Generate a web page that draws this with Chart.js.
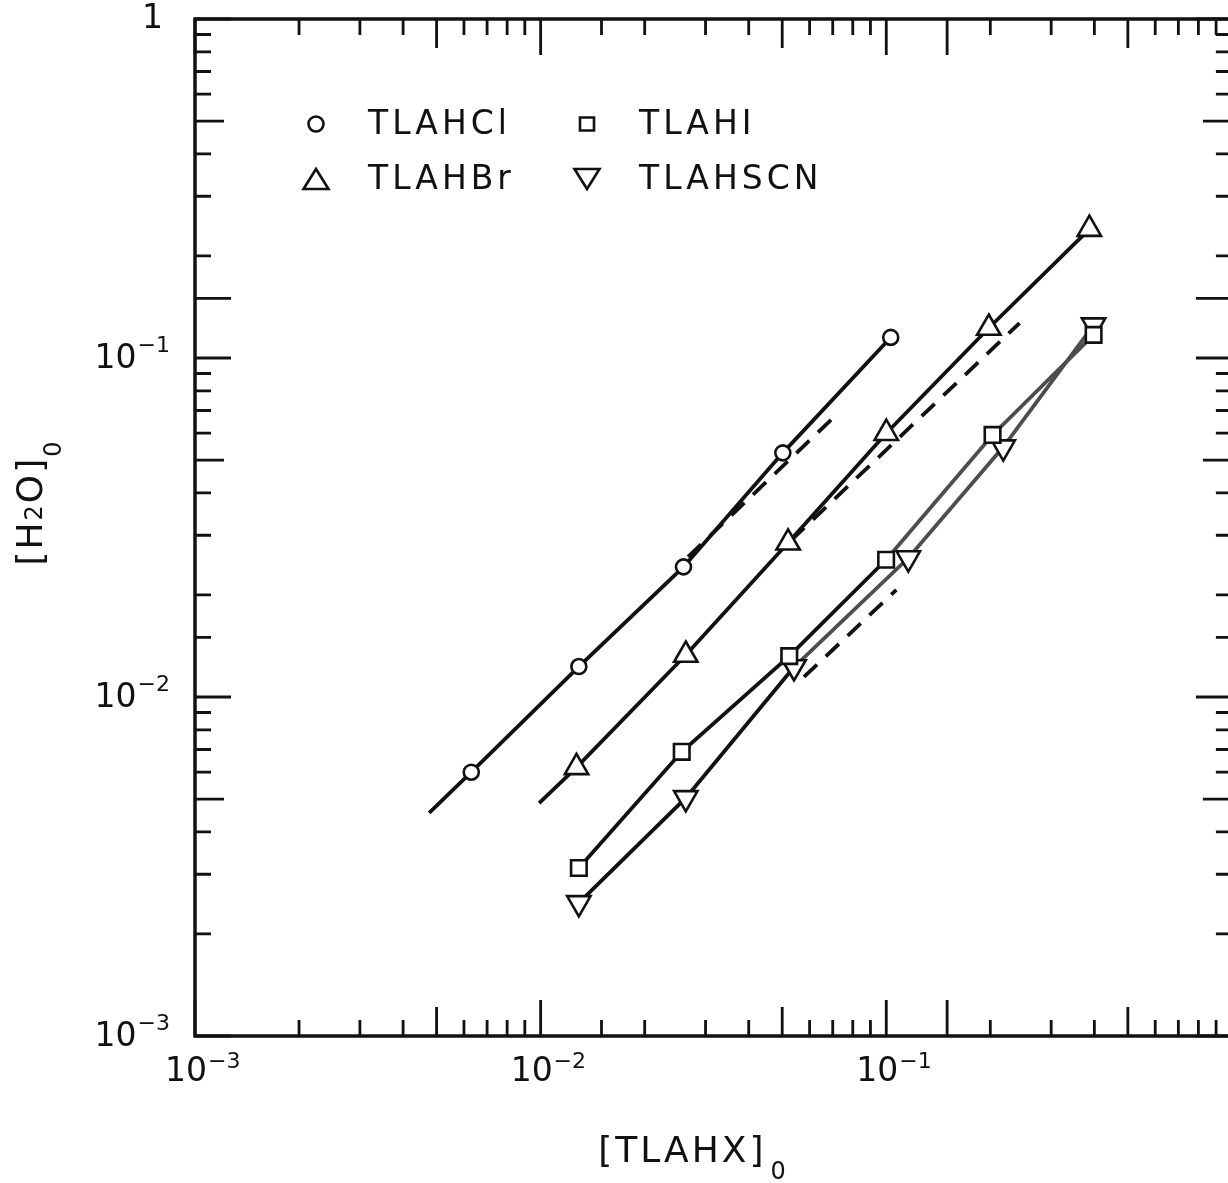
<!DOCTYPE html>
<html>
<head>
<meta charset="utf-8">
<script src="https://cdn.jsdelivr.net/npm/chart.js@4.4.1/dist/chart.umd.min.js"></script>
<style>
  html, body { margin: 0; padding: 0; background: #fff; overflow: hidden; }
  canvas { display: block; }
</style>
</head>
<body>
<canvas id="chart" width="1248" height="1183"></canvas>
<script>
// [H2O]0 against [TLAHX]0
const clX = [0.0063, 0.0129, 0.0259, 0.0502, 0.103];
const clY = [0.0060, 0.0123, 0.0242, 0.0525, 0.115];
const brX = [0.0127, 0.0263, 0.052, 0.100, 0.198, 0.387];
const brY = [0.0062, 0.0133, 0.0285, 0.060, 0.1226, 0.240];
const iX = [0.0129, 0.0256, 0.0524, 0.0999, 0.203, 0.398];
const iY = [0.00313, 0.00689, 0.0132, 0.0254, 0.0593, 0.117];
const scnX = [0.0129, 0.0263, 0.0541, 0.1158, 0.218, 0.398];
const scnY = [0.00247, 0.00504, 0.01226, 0.0257, 0.0546, 0.125];

// solid fit lines reach a little below the first Cl and Br points
const clLineFrom = [0.00476, 0.00455];
const brLineFrom = [0.0099, 0.00486];

// dashed (calculated) lines, start and end
const clDashX = [0.0267, 0.0701];
const clDashY = [0.0259, 0.0665];
const brDashX = [0.0531, 0.243];
const brDashY = [0.0290, 0.1268];
const scnDashX = [0.0578, 0.1069];
const scnDashY = [0.01146, 0.0207];

// where the I and SCN traces turn into the lighter hatched stroke
const iGreyFrom = 0.0999;
const scnGreyFrom = 0.0541;

const xTitle = ['[TLAHX]', '0'];
const yTitle = ['[H', '2', 'O]', '0'];

const INK = '#111';
const GREY = '#4d4d4d';
const FONT = '"DejaVu Sans", "Noto Sans", sans-serif';

const pts = (xs, ys) => xs.map((x, i) => ({ x, y: ys[i] }));

function decadeOf(v) {
  const e = Math.log10(v), n = Math.round(e);
  return Math.abs(e - n) < 1e-6 ? n : null;
}

function markers(label, xs, ys, style, radius, rotation) {
  return {
    label, inLegend: true, data: pts(xs, ys), showLine: false,
    pointStyle: style, pointRadius: radius, pointRotation: rotation || 0,
    pointBorderWidth: 2.6, pointBorderColor: INK, pointBackgroundColor: '#fff',
    legendStyle: style, legendRotation: rotation || 0, order: 0
  };
}
function line(data, dash, greyFrom) {
  const ds = {
    data, showLine: true, pointRadius: 0, borderColor: INK, borderWidth: 3.8,
    borderDash: dash ? [18, 12] : [], fill: false, order: 1
  };
  if (greyFrom) {
    ds.segment = { borderColor: c => (c.p0.parsed.x >= greyFrom ? GREY : INK) };
  }
  return ds;
}

const datasets = [
  markers('TLAHCl', clX, clY, 'circle', 7.5),
  markers('TLAHI', iX, iY, 'rect', 11),
  markers('TLAHBr', brX, brY, 'triangle', 13.5),
  markers('TLAHSCN', scnX, scnY, 'triangle', 13.5, 180),
  line([{ x: clLineFrom[0], y: clLineFrom[1] }, ...pts(clX, clY)]),
  line([{ x: brLineFrom[0], y: brLineFrom[1] }, ...pts(brX, brY)]),
  line(pts(iX, iY), false, iGreyFrom),
  line(pts(scnX, scnY), false, scnGreyFrom),
  line(pts(clDashX, clDashY), true),
  line(pts(brDashX, brDashY), true),
  line(pts(scnDashX, scnDashY), true)
];

function tickLen(v) {
  const sig = Math.round(v / Math.pow(10, Math.floor(Math.log10(v) + 1e-9)));
  return sig === 1 ? 36 : sig === 5 ? 29 : 16;
}

// frame plus inward ticks on all four sides
const frameTicks = {
  id: 'frameTicks',
  beforeDatasetsDraw(chart) {
    const { ctx, chartArea: a, scales: { x, y } } = chart;
    ctx.save();
    ctx.strokeStyle = INK;
    ctx.lineWidth = 3.5;
    ctx.strokeRect(a.left, a.top, a.right - a.left, a.bottom - a.top);
    ctx.lineWidth = 2.8;
    ctx.beginPath();
    x.ticks.forEach(t => {
      const p = x.getPixelForValue(t.value), L = tickLen(t.value);
      ctx.moveTo(p, a.bottom); ctx.lineTo(p, a.bottom - L);
      ctx.moveTo(p, a.top); ctx.lineTo(p, a.top + L);
    });
    y.ticks.forEach(t => {
      const p = y.getPixelForValue(t.value), L = tickLen(t.value);
      ctx.moveTo(a.left, p); ctx.lineTo(a.left + L, p);
      ctx.moveTo(a.right, p); ctx.lineTo(a.right - L, p);
    });
    ctx.stroke();
    ctx.restore();
  }
};

// decade labels 10^n with a raised exponent, plus axis titles with subscripts
const BIG = '33px ' + FONT, SMALL = '22px ' + FONT;
const axisText = {
  id: 'axisText',
  afterDraw(chart) {
    const { ctx, chartArea: a, scales: { x, y } } = chart;
    ctx.save();
    ctx.fillStyle = INK;
    ctx.textBaseline = 'middle';
    ctx.textAlign = 'left';
    y.ticks.forEach(t => {
      const n = decadeOf(t.value);
      if (n === null) return;
      const p = y.getPixelForValue(t.value);
      ctx.font = BIG;
      if (n === 0) {
        ctx.textAlign = 'right';
        ctx.fillText('1', a.left - 32, p);
        ctx.textAlign = 'left';
        return;
      }
      const exp = '\u2212' + Math.abs(n);
      const wb = ctx.measureText('10').width;
      ctx.font = SMALL;
      const we = ctx.measureText(exp).width;
      const right = a.left - 25;
      ctx.fillText(exp, right - we, p - 12);
      ctx.font = BIG;
      ctx.fillText('10', right - we - wb - 1, p + 1);
    });
    x.ticks.forEach(t => {
      const n = decadeOf(t.value);
      if (n === null || n === 0) return;
      const p = x.getPixelForValue(t.value);
      const left = p - 30;
      ctx.font = BIG;
      const wb = ctx.measureText('10').width;
      ctx.fillText('10', left, a.bottom + 36);
      ctx.font = SMALL;
      ctx.fillText('\u2212' + Math.abs(n), left + wb + 1, a.bottom + 26);
    });

    // x title
    ctx.textBaseline = 'alphabetic';
    ctx.letterSpacing = '3px';
    ctx.font = '36px ' + FONT;
    const w0 = ctx.measureText(xTitle[0]).width;
    ctx.font = '24px ' + FONT;
    const w1 = ctx.measureText(xTitle[1]).width;
    const tx = (a.left + a.right) / 2 - 20 - (w0 + w1 + 4) / 2;
    ctx.font = '36px ' + FONT;
    ctx.fillText(xTitle[0], tx, a.bottom + 126);
    ctx.font = '24px ' + FONT;
    ctx.fillText(xTitle[1], tx + w0 + 4, a.bottom + 143);

    // y title, rotated
    ctx.letterSpacing = '2px';
    const parts = yTitle.map((s, i) => ({ s, f: i % 2 ? '24px ' + FONT : '36px ' + FONT, dy: i === 3 ? 19 : 0 }));
    let total = 0;
    parts.forEach(q => { ctx.font = q.f; q.w = ctx.measureText(q.s).width; total += q.w; });
    ctx.translate(42, (a.top + a.bottom) / 2 - 25);
    ctx.rotate(-Math.PI / 2);
    let cx = -total / 2;
    parts.forEach(q => { ctx.font = q.f; ctx.fillText(q.s, cx, q.dy); cx += q.w; });
    ctx.restore();
  }
};

function drawMark(ctx, style, rot, cx, cy) {
  ctx.beginPath();
  if (style === 'circle') {
    ctx.arc(cx, cy, 7.5, 0, Math.PI * 2);
  } else if (style === 'rect') {
    ctx.rect(cx - 7, cy - 6.5, 14, 13);
  } else {
    const s = rot ? -1 : 1, w = 12.5, h = 10;
    ctx.moveTo(cx, cy - s * h);
    ctx.lineTo(cx + w, cy + s * h);
    ctx.lineTo(cx - w, cy + s * h);
    ctx.closePath();
  }
  ctx.fillStyle = '#fff';
  ctx.fill();
  ctx.stroke();
}

// 2 x 2 key in the upper left of the plot
const cornerLegend = {
  id: 'cornerLegend',
  afterDatasetsDraw(chart) {
    const { ctx, chartArea: a } = chart;
    const items = chart.data.datasets.filter(d => d.inLegend);
    ctx.save();
    ctx.strokeStyle = INK;
    ctx.lineWidth = 2.6;
    ctx.font = '33px ' + FONT;
    ctx.letterSpacing = '4px';
    ctx.textBaseline = 'middle';
    items.forEach((d, i) => {
      const mx = a.left + 121 + (i % 2) * 271;
      const my = a.top + 105 + Math.floor(i / 2) * 55;
      drawMark(ctx, d.legendStyle, d.legendRotation, mx, my);
      ctx.fillStyle = INK;
      ctx.fillText(d.label, mx + 52, my + 1);
    });
    ctx.restore();
  }
};

function fixBox(s, w, h) {
  if (w) s.width = w;
  if (h) s.height = h;
  s.paddingTop = s.paddingBottom = s.paddingLeft = s.paddingRight = 0;
}

new Chart(document.getElementById('chart'), {
  type: 'scatter',
  data: { datasets },
  plugins: [frameTicks, cornerLegend, axisText],
  options: {
    responsive: false,
    animation: false,
    events: [],
    layout: { padding: { top: 19, right: 10, left: 0, bottom: 0 } },
    plugins: { legend: { display: false }, tooltip: { enabled: false } },
    scales: {
      x: {
        type: 'logarithmic', min: 0.001, max: 1,
        grid: { display: false }, border: { display: false },
        ticks: { display: false, autoSkip: false },
        afterFit: s => fixBox(s, 0, 147)
      },
      y: {
        type: 'logarithmic', min: 0.001, max: 1,
        grid: { display: false }, border: { display: false },
        ticks: { display: false, autoSkip: false },
        afterFit: s => fixBox(s, 195, 0)
      }
    }
  }
});
</script>
</body>
</html>
